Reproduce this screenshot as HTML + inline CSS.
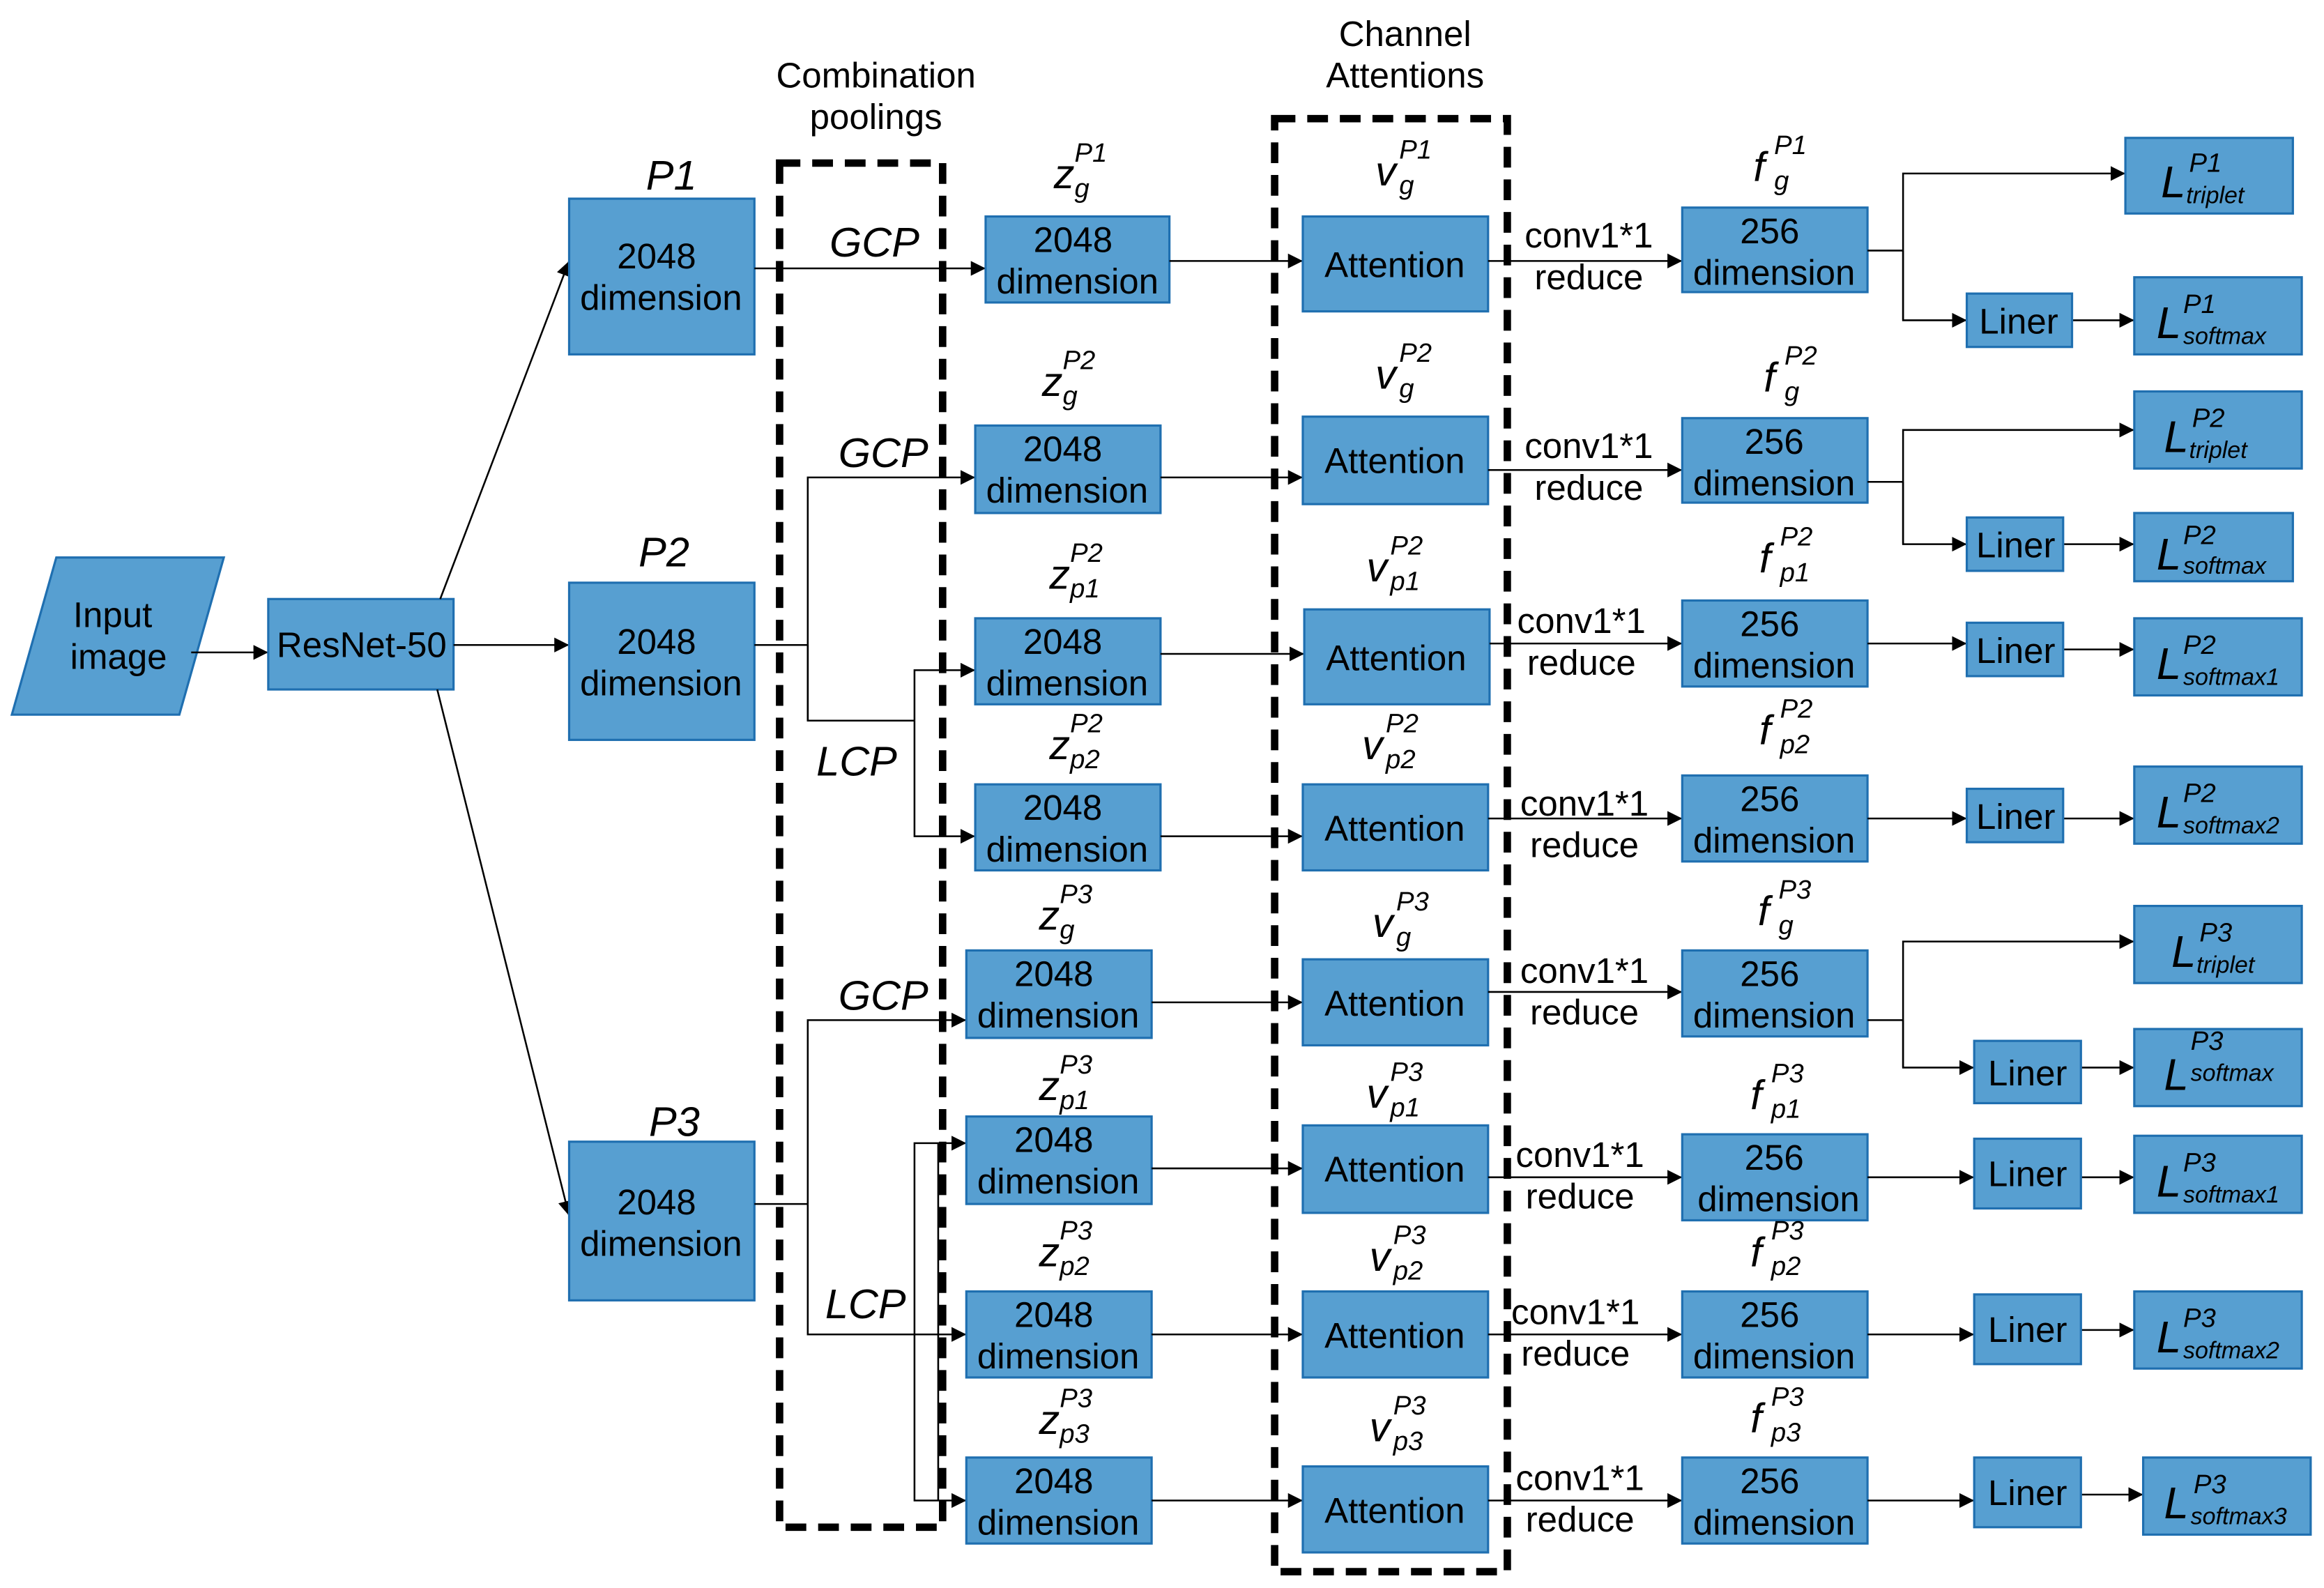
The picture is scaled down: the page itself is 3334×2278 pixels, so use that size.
<!DOCTYPE html>
<html><head><meta charset="utf-8"><style>
html,body{margin:0;padding:0;background:#fff;}
svg{display:block;}
text{font-family:"Liberation Sans",Arial,sans-serif;fill:#000;}
.b{fill:#579fd1;stroke:#1f6fb0;stroke-width:1.5;}
.t{font-size:24px;text-anchor:middle;}
.i{font-style:italic;}
.m{font-style:italic;font-size:28px;}
.s{font-style:italic;font-size:18px;}
.ln{stroke:#000;stroke-width:1.2;fill:none;}
.d{stroke:#000;stroke-width:5;fill:none;stroke-dasharray:14,8;}
</style></head><body>
<svg width="3334" height="2278" viewBox="0 0 1568 1071" preserveAspectRatio="none" xmlns="http://www.w3.org/2000/svg">
<defs><marker id="a" markerWidth="10" markerHeight="10" refX="10" refY="5" orient="auto" markerUnits="userSpaceOnUse"><path d="M0,0L10,5L0,10z" fill="#000"/></marker></defs>

<!-- input -->
<polygon class="b" points="8,482 38,376 151,376 121,482"/>
<text class="t" x="76" y="423">Input</text><text class="t" x="80" y="451">image</text>
<line class="ln" x1="129" y1="440" x2="181" y2="440" marker-end="url(#a)"/>
<rect class="b" x="181" y="404" width="125" height="61"/>
<text class="t" x="244" y="443">ResNet-50</text>

<!-- P boxes -->
<line class="ln" x1="297" y1="404" x2="384" y2="176" marker-end="url(#a)"/>
<line class="ln" x1="306" y1="435" x2="384" y2="435" marker-end="url(#a)"/>
<line class="ln" x1="295" y1="465" x2="384" y2="820" marker-end="url(#a)"/>
<text class="t i" x="453" y="128" style="font-size:28px">P1</text>
<rect class="b" x="384" y="134" width="125" height="105"/>
<text class="t" x="443" y="181">2048</text><text class="t" x="446" y="209">dimension</text>
<text class="t i" x="448" y="382" style="font-size:28px">P2</text>
<rect class="b" x="384" y="393" width="125" height="106"/>
<text class="t" x="443" y="441">2048</text><text class="t" x="446" y="469">dimension</text>
<text class="t i" x="455" y="766" style="font-size:28px">P3</text>
<rect class="b" x="384" y="770" width="125" height="107"/>
<text class="t" x="443" y="819">2048</text><text class="t" x="446" y="847">dimension</text>

<!-- titles -->
<text class="t" x="591" y="59">Combination</text><text class="t" x="591" y="87">poolings</text>
<text class="t" x="948" y="31">Channel</text><text class="t" x="948" y="59">Attentions</text>

<!-- pooling connectors -->
<polyline class="ln" points="509,181 665,181" marker-end="url(#a)"/>
<polyline class="ln" points="509,435 545,435"/>
<polyline class="ln" points="545,486 545,322 658,322" marker-end="url(#a)"/>
<polyline class="ln" points="545,435 545,486 617,486"/>
<polyline class="ln" points="617,486 617,452 658,452" marker-end="url(#a)"/>
<polyline class="ln" points="617,486 617,564 658,564" marker-end="url(#a)"/>
<polyline class="ln" points="509,812 545,812"/>
<polyline class="ln" points="545,812 545,688 652,688" marker-end="url(#a)"/>
<polyline class="ln" points="545,812 545,900 652,900" marker-end="url(#a)"/>
<polyline class="ln" points="617,900 617,771 652,771" marker-end="url(#a)"/>
<polyline class="ln" points="617,900 617,1012 652,1012" marker-end="url(#a)"/>
<line class="ln" x1="633" y1="771" x2="633" y2="1012"/>
<text class="t i" x="590" y="173" style="font-size:28px">GCP</text>
<text class="t i" x="596" y="315" style="font-size:28px">GCP</text>
<text class="t i" x="578" y="523" style="font-size:28px">LCP</text>
<text class="t i" x="596" y="681" style="font-size:28px">GCP</text>
<text class="t i" x="584" y="889" style="font-size:28px">LCP</text>

<!-- dashed boxes -->
<rect class="d" x="526" y="110" width="110" height="920"/>
<rect class="d" x="860" y="80" width="157" height="980"/>

<!-- z boxes -->
<rect class="b" x="665" y="146" width="124" height="58"/><text class="t" x="724" y="170">2048</text><text class="t" x="727" y="198">dimension</text>
<rect class="b" x="658" y="287" width="125" height="59"/><text class="t" x="717" y="311">2048</text><text class="t" x="720" y="339">dimension</text>
<rect class="b" x="658" y="417" width="125" height="58"/><text class="t" x="717" y="441">2048</text><text class="t" x="720" y="469">dimension</text>
<rect class="b" x="658" y="529" width="125" height="58"/><text class="t" x="717" y="553">2048</text><text class="t" x="720" y="581">dimension</text>
<rect class="b" x="652" y="641" width="125" height="59"/><text class="t" x="711" y="665">2048</text><text class="t" x="714" y="693">dimension</text>
<rect class="b" x="652" y="753" width="125" height="59"/><text class="t" x="711" y="777">2048</text><text class="t" x="714" y="805">dimension</text>
<rect class="b" x="652" y="871" width="125" height="58"/><text class="t" x="711" y="895">2048</text><text class="t" x="714" y="923">dimension</text>
<rect class="b" x="652" y="983" width="125" height="58"/><text class="t" x="711" y="1007">2048</text><text class="t" x="714" y="1035">dimension</text>

<!-- z labels -->
<text class="m" x="711" y="127">z</text><text class="s" x="725" y="109">P1</text><text class="s" x="725" y="133">g</text>
<text class="m" x="703" y="267">z</text><text class="s" x="717" y="249">P2</text><text class="s" x="717" y="273">g</text>
<text class="m" x="708" y="397">z</text><text class="s" x="722" y="379">P2</text><text class="s" x="722" y="403">p1</text>
<text class="m" x="708" y="512">z</text><text class="s" x="722" y="494">P2</text><text class="s" x="722" y="518">p2</text>
<text class="m" x="701" y="627">z</text><text class="s" x="715" y="609">P3</text><text class="s" x="715" y="633">g</text>
<text class="m" x="701" y="742">z</text><text class="s" x="715" y="724">P3</text><text class="s" x="715" y="748">p1</text>
<text class="m" x="701" y="854">z</text><text class="s" x="715" y="836">P3</text><text class="s" x="715" y="860">p2</text>
<text class="m" x="701" y="967">z</text><text class="s" x="715" y="949">P3</text><text class="s" x="715" y="973">p3</text>

<!-- z -> attention -->
<line class="ln" x1="789" y1="176" x2="879" y2="176" marker-end="url(#a)"/>
<line class="ln" x1="783" y1="322" x2="879" y2="322" marker-end="url(#a)"/>
<line class="ln" x1="783" y1="441" x2="880" y2="441" marker-end="url(#a)"/>
<line class="ln" x1="783" y1="564" x2="879" y2="564" marker-end="url(#a)"/>
<line class="ln" x1="777" y1="676" x2="879" y2="676" marker-end="url(#a)"/>
<line class="ln" x1="777" y1="788" x2="879" y2="788" marker-end="url(#a)"/>
<line class="ln" x1="777" y1="900" x2="879" y2="900" marker-end="url(#a)"/>
<line class="ln" x1="777" y1="1012" x2="879" y2="1012" marker-end="url(#a)"/>

<!-- attention boxes -->
<rect class="b" x="879" y="146" width="125" height="64"/><text class="t" x="941" y="187">Attention</text>
<rect class="b" x="879" y="281" width="125" height="59"/><text class="t" x="941" y="319">Attention</text>
<rect class="b" x="880" y="411" width="125" height="64"/><text class="t" x="942" y="452">Attention</text>
<rect class="b" x="879" y="529" width="125" height="58"/><text class="t" x="941" y="567">Attention</text>
<rect class="b" x="879" y="647" width="125" height="58"/><text class="t" x="941" y="685">Attention</text>
<rect class="b" x="879" y="759" width="125" height="59"/><text class="t" x="941" y="797">Attention</text>
<rect class="b" x="879" y="871" width="125" height="58"/><text class="t" x="941" y="909">Attention</text>
<rect class="b" x="879" y="989" width="125" height="58"/><text class="t" x="941" y="1027">Attention</text>

<!-- v labels -->
<text class="m" x="928" y="125">v</text><text class="s" x="944" y="107">P1</text><text class="s" x="944" y="131">g</text>
<text class="m" x="928" y="262">v</text><text class="s" x="944" y="244">P2</text><text class="s" x="944" y="268">g</text>
<text class="m" x="922" y="392">v</text><text class="s" x="938" y="374">P2</text><text class="s" x="938" y="398">p1</text>
<text class="m" x="919" y="512">v</text><text class="s" x="935" y="494">P2</text><text class="s" x="935" y="518">p2</text>
<text class="m" x="926" y="632">v</text><text class="s" x="942" y="614">P3</text><text class="s" x="942" y="638">g</text>
<text class="m" x="922" y="747">v</text><text class="s" x="938" y="729">P3</text><text class="s" x="938" y="753">p1</text>
<text class="m" x="924" y="857">v</text><text class="s" x="940" y="839">P3</text><text class="s" x="940" y="863">p2</text>
<text class="m" x="924" y="972">v</text><text class="s" x="940" y="954">P3</text><text class="s" x="940" y="978">p3</text>

<!-- attention -> 256 -->
<line class="ln" x1="1004" y1="176" x2="1135" y2="176" marker-end="url(#a)"/>
<line class="ln" x1="1004" y1="317" x2="1135" y2="317" marker-end="url(#a)"/>
<line class="ln" x1="1005" y1="434" x2="1135" y2="434" marker-end="url(#a)"/>
<line class="ln" x1="1004" y1="552" x2="1135" y2="552" marker-end="url(#a)"/>
<line class="ln" x1="1004" y1="669" x2="1135" y2="669" marker-end="url(#a)"/>
<line class="ln" x1="1004" y1="794" x2="1135" y2="794" marker-end="url(#a)"/>
<line class="ln" x1="1004" y1="900" x2="1135" y2="900" marker-end="url(#a)"/>
<line class="ln" x1="1004" y1="1012" x2="1135" y2="1012" marker-end="url(#a)"/>
<text class="t" x="1072" y="167">conv1*1</text><text class="t" x="1072" y="195">reduce</text>
<text class="t" x="1072" y="309">conv1*1</text><text class="t" x="1072" y="337">reduce</text>
<text class="t" x="1067" y="427">conv1*1</text><text class="t" x="1067" y="455">reduce</text>
<text class="t" x="1069" y="550">conv1*1</text><text class="t" x="1069" y="578">reduce</text>
<text class="t" x="1069" y="663">conv1*1</text><text class="t" x="1069" y="691">reduce</text>
<text class="t" x="1066" y="787">conv1*1</text><text class="t" x="1066" y="815">reduce</text>
<text class="t" x="1063" y="893">conv1*1</text><text class="t" x="1063" y="921">reduce</text>
<text class="t" x="1066" y="1005">conv1*1</text><text class="t" x="1066" y="1033">reduce</text>

<!-- 256 boxes -->
<rect class="b" x="1135" y="140" width="125" height="57"/><text class="t" x="1194" y="164">256</text><text class="t" x="1197" y="192">dimension</text>
<rect class="b" x="1135" y="282" width="125" height="57"/><text class="t" x="1197" y="306">256</text><text class="t" x="1197" y="334">dimension</text>
<rect class="b" x="1135" y="405" width="125" height="58"/><text class="t" x="1194" y="429">256</text><text class="t" x="1197" y="457">dimension</text>
<rect class="b" x="1135" y="523" width="125" height="58"/><text class="t" x="1194" y="547">256</text><text class="t" x="1197" y="575">dimension</text>
<rect class="b" x="1135" y="641" width="125" height="58"/><text class="t" x="1194" y="665">256</text><text class="t" x="1197" y="693">dimension</text>
<rect class="b" x="1135" y="765" width="125" height="58"/><text class="t" x="1197" y="789">256</text><text class="t" x="1200" y="817">dimension</text>
<rect class="b" x="1135" y="871" width="125" height="58"/><text class="t" x="1194" y="895">256</text><text class="t" x="1197" y="923">dimension</text>
<rect class="b" x="1135" y="983" width="125" height="58"/><text class="t" x="1194" y="1007">256</text><text class="t" x="1197" y="1035">dimension</text>

<!-- f labels -->
<text class="m" x="1183" y="122">f</text><text class="s" x="1197" y="104">P1</text><text class="s" x="1197" y="128">g</text>
<text class="m" x="1190" y="264">f</text><text class="s" x="1204" y="246">P2</text><text class="s" x="1204" y="270">g</text>
<text class="m" x="1187" y="386">f</text><text class="s" x="1201" y="368">P2</text><text class="s" x="1201" y="392">p1</text>
<text class="m" x="1187" y="502">f</text><text class="s" x="1201" y="484">P2</text><text class="s" x="1201" y="508">p2</text>
<text class="m" x="1186" y="624">f</text><text class="s" x="1200" y="606">P3</text><text class="s" x="1200" y="630">g</text>
<text class="m" x="1181" y="748">f</text><text class="s" x="1195" y="730">P3</text><text class="s" x="1195" y="754">p1</text>
<text class="m" x="1181" y="854">f</text><text class="s" x="1195" y="836">P3</text><text class="s" x="1195" y="860">p2</text>
<text class="m" x="1181" y="966">f</text><text class="s" x="1195" y="948">P3</text><text class="s" x="1195" y="972">p3</text>

<!-- branches -->
<polyline class="ln" points="1260,169 1284,169"/>
<polyline class="ln" points="1284,216 1284,117 1434,117" marker-end="url(#a)"/>
<polyline class="ln" points="1284,169 1284,216 1327,216" marker-end="url(#a)"/>
<line class="ln" x1="1398" y1="216" x2="1440" y2="216" marker-end="url(#a)"/>
<polyline class="ln" points="1260,325 1284,325"/>
<polyline class="ln" points="1284,367 1284,290 1440,290" marker-end="url(#a)"/>
<polyline class="ln" points="1284,325 1284,367 1327,367" marker-end="url(#a)"/>
<line class="ln" x1="1392" y1="367" x2="1440" y2="367" marker-end="url(#a)"/>
<line class="ln" x1="1260" y1="434" x2="1327" y2="434" marker-end="url(#a)"/>
<line class="ln" x1="1392" y1="438" x2="1440" y2="438" marker-end="url(#a)"/>
<line class="ln" x1="1260" y1="552" x2="1327" y2="552" marker-end="url(#a)"/>
<line class="ln" x1="1392" y1="552" x2="1440" y2="552" marker-end="url(#a)"/>
<polyline class="ln" points="1260,688 1284,688"/>
<polyline class="ln" points="1284,720 1284,635 1440,635" marker-end="url(#a)"/>
<polyline class="ln" points="1284,688 1284,720 1332,720" marker-end="url(#a)"/>
<line class="ln" x1="1404" y1="720" x2="1440" y2="720" marker-end="url(#a)"/>
<line class="ln" x1="1260" y1="794" x2="1332" y2="794" marker-end="url(#a)"/>
<line class="ln" x1="1404" y1="794" x2="1440" y2="794" marker-end="url(#a)"/>
<line class="ln" x1="1260" y1="900" x2="1332" y2="900" marker-end="url(#a)"/>
<line class="ln" x1="1404" y1="897" x2="1440" y2="897" marker-end="url(#a)"/>
<line class="ln" x1="1260" y1="1012" x2="1332" y2="1012" marker-end="url(#a)"/>
<line class="ln" x1="1404" y1="1008" x2="1446" y2="1008" marker-end="url(#a)"/>

<!-- Liner boxes -->
<rect class="b" x="1327" y="198" width="71" height="36"/><text class="t" x="1362" y="225">Liner</text>
<rect class="b" x="1327" y="349" width="65" height="36"/><text class="t" x="1360" y="376">Liner</text>
<rect class="b" x="1327" y="420" width="65" height="36"/><text class="t" x="1360" y="447">Liner</text>
<rect class="b" x="1327" y="532" width="65" height="36"/><text class="t" x="1360" y="559">Liner</text>
<rect class="b" x="1332" y="702" width="72" height="42"/><text class="t" x="1368" y="732">Liner</text>
<rect class="b" x="1332" y="768" width="72" height="47"/><text class="t" x="1368" y="800">Liner</text>
<rect class="b" x="1332" y="873" width="72" height="47"/><text class="t" x="1368" y="905">Liner</text>
<rect class="b" x="1332" y="983" width="72" height="47"/><text class="t" x="1368" y="1015">Liner</text>

<!-- L boxes -->
<rect class="b" x="1434" y="93" width="113" height="51"/>
<text class="m" x="1458" y="133" style="font-size:30px">L</text><text class="s" x="1477" y="116">P1</text><text class="s" x="1475" y="137" style="font-size:16px">triplet</text>
<rect class="b" x="1440" y="187" width="113" height="52"/>
<text class="m" x="1455" y="228" style="font-size:30px">L</text><text class="s" x="1473" y="211">P1</text><text class="s" x="1473" y="232" style="font-size:16px">softmax</text>
<rect class="b" x="1440" y="264" width="113" height="52"/>
<text class="m" x="1460" y="305" style="font-size:30px">L</text><text class="s" x="1479" y="288">P2</text><text class="s" x="1477" y="309" style="font-size:16px">triplet</text>
<rect class="b" x="1440" y="346" width="107" height="46"/>
<text class="m" x="1455" y="384" style="font-size:30px">L</text><text class="s" x="1473" y="367">P2</text><text class="s" x="1473" y="387" style="font-size:16px">softmax</text>
<rect class="b" x="1440" y="417" width="113" height="52"/>
<text class="m" x="1455" y="458" style="font-size:30px">L</text><text class="s" x="1473" y="441">P2</text><text class="s" x="1473" y="462" style="font-size:16px">softmax1</text>
<rect class="b" x="1440" y="517" width="113" height="52"/>
<text class="m" x="1455" y="558" style="font-size:30px">L</text><text class="s" x="1473" y="541">P2</text><text class="s" x="1473" y="562" style="font-size:16px">softmax2</text>
<rect class="b" x="1440" y="611" width="113" height="52"/>
<text class="m" x="1465" y="652" style="font-size:30px">L</text><text class="s" x="1484" y="635">P3</text><text class="s" x="1482" y="656" style="font-size:16px">triplet</text>
<rect class="b" x="1440" y="694" width="113" height="52"/>
<text class="m" x="1460" y="735" style="font-size:30px">L</text><text class="s" x="1478" y="708">P3</text><text class="s" x="1478" y="729" style="font-size:16px">softmax</text>
<rect class="b" x="1440" y="766" width="113" height="52"/>
<text class="m" x="1455" y="807" style="font-size:30px">L</text><text class="s" x="1473" y="790">P3</text><text class="s" x="1473" y="811" style="font-size:16px">softmax1</text>
<rect class="b" x="1440" y="871" width="113" height="52"/>
<text class="m" x="1455" y="912" style="font-size:30px">L</text><text class="s" x="1473" y="895">P3</text><text class="s" x="1473" y="916" style="font-size:16px">softmax2</text>
<rect class="b" x="1446" y="983" width="113" height="52"/>
<text class="m" x="1460" y="1024" style="font-size:30px">L</text><text class="s" x="1480" y="1007">P3</text><text class="s" x="1478" y="1028" style="font-size:16px">softmax3</text>
</svg>
</body></html>
